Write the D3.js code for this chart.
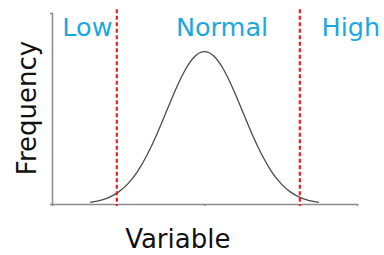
<!DOCTYPE html>
<html><head><meta charset="utf-8">
<script src="https://cdn.jsdelivr.net/npm/d3@7"></script>
<style>body{margin:0;background:#fff}svg{display:block}</style>
</head><body>
<svg id="c" width="384" height="255"></svg>
<script>
// Curve samples (variable in sd units, frequency)
const xVals = [-3, -2.75, -2.5, -2.25, -2, -1.75, -1.5, -1.25, -1, -0.75, -0.5, -0.25, 0,
               0.25, 0.5, 0.75, 1, 1.25, 1.5, 1.75, 2, 2.25, 2.5, 2.75, 3];
const freqVals = [0.0044, 0.0091, 0.0175, 0.0317, 0.054, 0.0863, 0.1295, 0.1826, 0.242, 0.3011, 0.3521, 0.3867, 0.3989,
                  0.3867, 0.3521, 0.3011, 0.242, 0.1826, 0.1295, 0.0863, 0.054, 0.0317, 0.0175, 0.0091, 0.0044];
const cutoffs = [-2.3, 2.5];
const zoneLabels = ["Low", "Normal", "High"];
const zoneCenters = [-3.07, 0.46, 3.84];
const xTitle = "Variable";
const yTitle = "Frequency";

const svg = d3.select("#c");
const x = d3.scaleLinear().domain([-4, 4]).range([52, 357]);
const y = d3.scaleLinear().domain([0, 0.5]).range([204, 13]);

const axisColor = "#8a8a8a";
svg.append("g").attr("transform", `translate(0,${y(0)})`)
  .call(d3.axisBottom(x).tickValues([0]).tickSizeInner(2).tickSizeOuter(2).tickFormat(""));
svg.append("g").attr("transform", `translate(${x(-4)},0)`)
  .call(d3.axisLeft(y).tickValues([]).tickSizeOuter(2));
svg.selectAll(".domain, .tick line").attr("stroke", axisColor).attr("stroke-width", 1.5);

const pts = xVals.map((v, i) => [v, freqVals[i]]);
svg.append("path").datum(pts)
  .attr("fill", "none").attr("stroke", "#4a4a4a").attr("stroke-width", 1.3)
  .attr("d", d3.line().x(d => x(d[0])).y(d => y(d[1])).curve(d3.curveNatural));

svg.selectAll("line.cut").data(cutoffs).join("line").attr("class", "cut")
  .attr("x1", d => x(d)).attr("x2", d => x(d))
  .attr("y1", y(0.51)).attr("y2", y(-0.005))
  .attr("stroke", "#ee1c25").attr("stroke-width", 2.2).attr("stroke-dasharray", "4,2.5");

svg.selectAll("text.zone").data(zoneLabels).join("text").attr("class", "zone")
  .attr("x", (d, i) => x(zoneCenters[i])).attr("y", 36)
  .attr("text-anchor", "middle")
  .attr("font-family", "DejaVu Sans").attr("font-size", 25.5)
  .attr("fill", "#1ba8e1").text(d => d);

svg.append("text").attr("x", x(-0.7)).attr("y", 248)
  .attr("text-anchor", "middle").attr("font-family", "DejaVu Sans").attr("font-size", 26)
  .attr("fill", "#111").text(xTitle);
svg.append("text").attr("transform", `translate(36,108) rotate(-90)`)
  .attr("text-anchor", "middle").attr("font-family", "DejaVu Sans").attr("font-size", 26)
  .attr("fill", "#111").text(yTitle);
</script>
</body></html>
